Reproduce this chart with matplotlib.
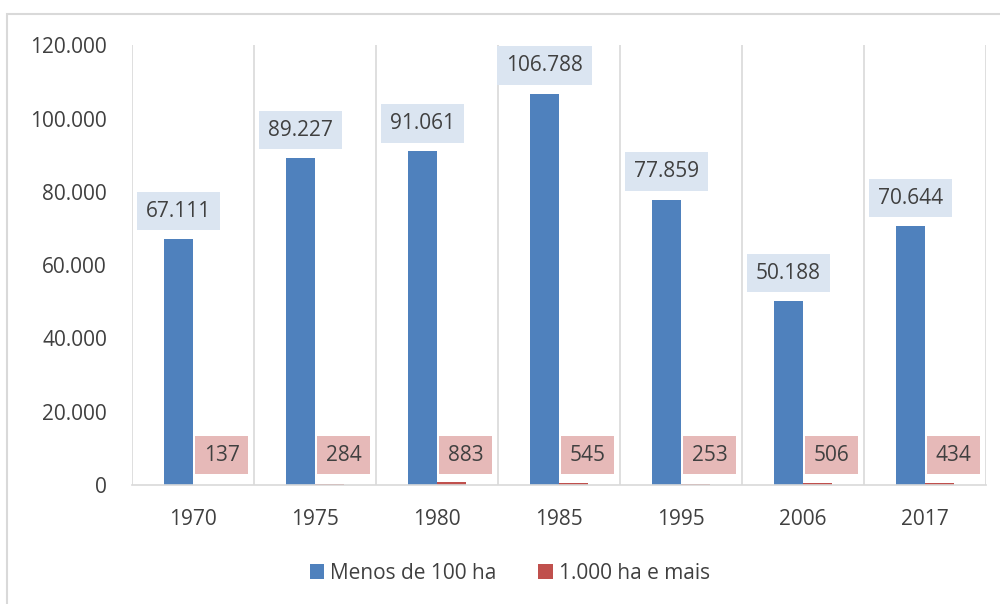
import matplotlib
matplotlib.use("Agg")
import matplotlib.pyplot as plt
import numpy as np
from matplotlib.patches import Rectangle

years = ["1970", "1975", "1980", "1985", "1995", "2006", "2017"]
menos_100 = [67111, 89227, 91061, 106788, 77859, 50188, 70644]
mais_1000 = [137, 284, 883, 545, 253, 506, 434]

def fmt(v):
    return f"{v:,}".replace(",", ".")

plt.rcParams['font.family'] = ['Open Sans', 'DejaVu Sans']
txt = '#404040'
fs = 15

fig = plt.figure(figsize=(10, 6.04), dpi=100)
fig.patches.append(Rectangle((0.007, -0.1), 1.2, 1.077, transform=fig.transFigure,
                             fill=False, edgecolor='#d9d9d9', linewidth=1.5))
ax = fig.add_axes([0.132, 0.197, 0.854, 0.728])

x = np.arange(len(years))
w = 0.24
b1 = ax.bar(x - w / 2, menos_100, w, color='#4f81bd', label='Menos de 100 ha')
b2 = ax.bar(x + w / 2, mais_1000, w, color='#c0504d', label='1.000 ha e mais')

for xi, v in zip(x, menos_100):
    ax.annotate(fmt(v), (xi - w / 2, v), xytext=(0, 28), textcoords='offset pixels',
                ha='center', va='center', fontsize=fs, color=txt,
                bbox=dict(boxstyle='square,pad=0.42', fc='#dbe5f1', ec='none'))
for xi, v in zip(x, mais_1000):
    ax.annotate(fmt(v), (xi + w / 2, 0), xytext=(14, 30), textcoords='offset pixels',
                ha='center', va='center', fontsize=fs, color=txt,
                bbox=dict(boxstyle='square,pad=0.42', fc='#e6b9b8', ec='none'))

ax.set_xlim(-0.5, len(years) - 0.5)
ax.set_ylim(0, 120000)
ax.set_yticks(np.arange(0, 120001, 20000))
ax.set_yticklabels([fmt(v) for v in range(0, 120001, 20000)])
ax.set_xticks(x)
ax.set_xticklabels(years)
for b in np.arange(-0.5, len(years), 1):
    ax.axvline(b, color='#d9d9d9', linewidth=1.2, zorder=0)

for s in ['top', 'right', 'left']:
    ax.spines[s].set_visible(False)
ax.spines['bottom'].set_color('#d9d9d9')
ax.spines['bottom'].set_linewidth(1.2)
ax.tick_params(axis='both', length=0, labelsize=fs, colors=txt)
ax.tick_params(axis='x', pad=17)
ax.tick_params(axis='y', pad=18)

fig.legend(loc='center', bbox_to_anchor=(0.51, 0.051), ncol=2, frameon=False,
           fontsize=fs, labelcolor=txt, handlelength=0.7, handleheight=0.7,
           handletextpad=0.3, columnspacing=2.0)

fig.savefig('out.png', dpi=100)
